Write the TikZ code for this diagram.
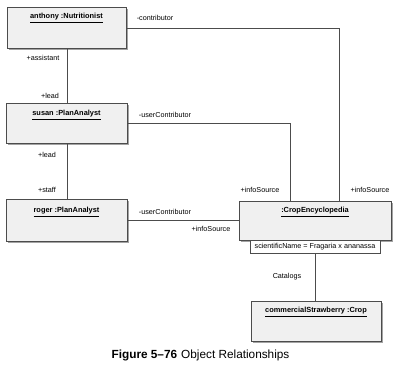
\documentclass[tikz,border=0pt]{standalone}
\usepackage{fontspec}
\setmainfont{Liberation Sans}
\usetikzlibrary{shadows}
\begin{document}
\begin{tikzpicture}[x=1pt,y=-1pt,
  obj/.style={draw=black!70,line width=0.8pt,fill=black!6,anchor=north west,inner sep=0pt,
    drop shadow={shadow xshift=1.2pt,shadow yshift=-1.2pt,fill=black!45,opacity=0.8}},
  ttl/.style={font=\fontsize{7.4}{8}\selectfont\bfseries,inner sep=0pt},
  lbl/.style={font=\fontsize{7.2}{8}\selectfont,inner sep=0pt},
  conn/.style={draw=black!70,line width=0.8pt}]
\useasboundingbox (0,0) rectangle (400,375);
% boxes
\node[obj,minimum width=119pt,minimum height=41pt] (anthony) at (7,7) {};
\node[obj,minimum width=121pt,minimum height=40pt] (susan) at (6,103) {};
\node[obj,minimum width=121pt,minimum height=42pt] (roger) at (6,199) {};
\node[obj,minimum width=152pt,minimum height=39pt] (crop) at (239,201) {};
\node[draw=black!70,line width=0.8pt,fill=white,anchor=north,minimum width=130pt,minimum height=13pt,inner sep=0pt,font=\fontsize{7.2}{8}\selectfont] (attr) at (315,240) {scientificName = Fragaria x ananassa};
\node[obj,minimum width=130pt,minimum height=40pt] (straw) at (251,301) {};
% titles
\node[ttl] (tanthony) at (66.5,18) {\underline{anthony :Nutritionist}};
\node[ttl] (tsusan) at (66.5,115) {\underline{susan :PlanAnalyst}};
\node[ttl] (troger) at (66.5,212) {\underline{roger :PlanAnalyst}};
\node[ttl] (tcrop) at (315,212) {\underline{:CropEncyclopedia}};
\node[ttl] (tstraw) at (316,312) {\underline{commercialStrawberry :Crop}};
% connectors
\coordinate (c1) at (339,201);
\coordinate (c2) at (290,201);
\draw[conn] (anthony) -- (susan);
\draw[conn] (susan) -- (roger);
\draw[conn] (anthony.east) -| (c1);
\draw[conn] (susan.east) -| (c2);
\draw[conn] (roger.east) -- (roger.east -| crop.west);
\draw[conn] (attr.south) -- (attr.south |- straw.north);
% labels
\node[lbl] (l1) at (43,58) {+assistant};
\node[lbl] (l2) at (50,96) {+lead};
\node[lbl] (l3) at (47,155) {+lead};
\node[lbl] (l4) at (47,190) {+staff};
\node[lbl] (l5) at (155,18) {-contributor};
\node[lbl] (l6) at (165,115) {-userContributor};
\node[lbl] (l7) at (165,212) {-userContributor};
\node[lbl] (l8) at (260,190) {+infoSource};
\node[lbl] (l9) at (370,190) {+infoSource};
\node[lbl] (l10) at (211,229) {+infoSource};
\node[lbl] (l11) at (287,277) {Catalogs};
% caption
\node[font=\fontsize{11.8}{13}\selectfont,inner sep=0pt] (cap) at (200.5,355) {\textbf{Figure 5–76}\hspace{4pt}Object Relationships};
\end{tikzpicture}
\end{document}
